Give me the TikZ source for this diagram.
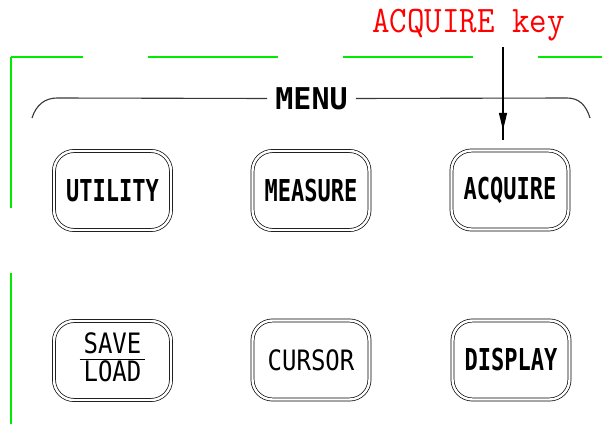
\documentclass[tikz,border=0pt]{standalone}
\usepackage{fontspec}
\usepackage{graphicx}
\usetikzlibrary{arrows.meta,decorations.markings}
\newfontfamily\keyfont{DejaVu Sans Mono}
\definecolor{framegreen}{RGB}{0,235,0}
\definecolor{menugray}{RGB}{55,55,55}
\newcommand{\tallbold}[1]{\scalebox{1}[1.37]{\bfseries #1}}
\newcommand{\tallreg}[1]{\scalebox{1}[1.17]{#1}}
\tikzset{
  keybtn/.style={rectangle, rounded corners=20pt, draw=black, double=white,
    double distance=2.4pt, line width=0.7pt, minimum width=117pt,
    minimum height=79pt, inner sep=0pt},
  boldlbl/.style={font=\keyfont\fontsize{22}{22}\selectfont},
  reglbl/.style={font=\keyfont\fontsize{24}{24}\selectfont},
  framedash/.style={framegreen, line width=1.2pt},
  every picture/.style={line cap=butt, line join=round}
}
\begin{document}
\begin{tikzpicture}[x=1pt,y=-1pt]
  \useasboundingbox (0,0) rectangle (602,425);

  % panel frame
  \coordinate (corner) at (11,57);
  \draw[framedash, dash pattern=on 151pt off 65pt] (corner) -- (11,425);
  \draw[framedash, dash pattern=on 130pt off 65pt, dash phase=58pt] (corner) -- (602,57);

  % MENU bracket
  \node[font=\keyfont\bfseries\fontsize{30}{30}\selectfont, inner sep=8pt,
        text height=22pt, text depth=0pt] (menu) at (311.5,98.5) {MENU};
  \coordinate (ml) at (32,118);
  \coordinate (mr) at (590,118);
  \draw[menugray, line width=1.1pt] (ml) .. controls (36,105) and (45,98) .. (57,98) -- (menu.west);
  \draw[menugray, line width=1.1pt] (menu.east) -- (567,98) .. controls (579,98) and (586,105) .. (mr);

  % keys, top row
  \node[keybtn, boldlbl] (utility) at (112.5,190.5) {\tallbold{UTILITY}};
  \node[keybtn, boldlbl] (measure) at (311,190.5) {\tallbold{MEASURE}};
  \node[keybtn, boldlbl] (acquire) at (510,190) {\tallbold{ACQUIRE}};

  % keys, bottom row
  \node[keybtn, reglbl] (saveload) at (112.5,360.5)
    {\begin{tabular}{@{\,}c@{\,}}\tallreg{SAVE}\\[-1pt]\hline\rule{0pt}{22pt}\tallreg{LOAD}\end{tabular}};
  \node[keybtn, reglbl] (cursor) at (311,360) {\tallreg{CURSOR}};
  \node[keybtn, boldlbl] (display) at (511,360) {\tallbold{DISPLAY}};

  % callout
  \node[anchor=base, red, font=\ttfamily\fontsize{34}{34}\selectfont, inner sep=0pt]
    (keynote) at (468.5,33) {\scalebox{1}[1.1]{ACQUIRE key}};
  \coordinate (keytip) at (503,47);
  \draw[line width=1.1pt, postaction={decorate},
        decoration={markings, mark=at position 83pt with {\arrow{Triangle[length=17pt,width=8pt]}}}]
    (keytip) -- ([yshift=10pt]keytip |- acquire.north);
\end{tikzpicture}
\end{document}
